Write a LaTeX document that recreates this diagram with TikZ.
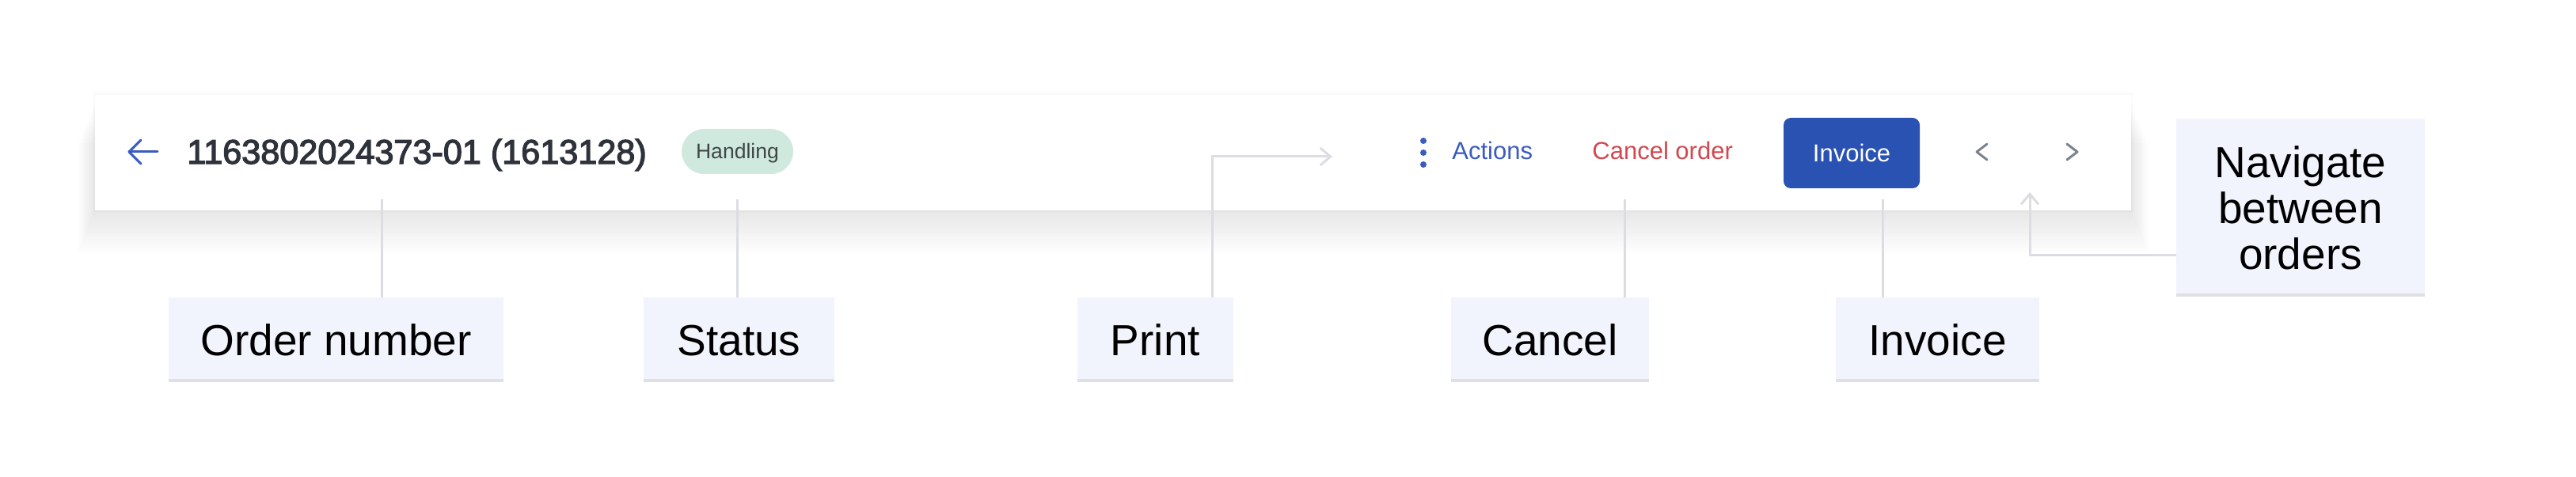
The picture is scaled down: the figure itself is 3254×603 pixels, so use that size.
\documentclass[tikz,border=0pt]{standalone}
\usepackage{fontspec}
\setmainfont{Liberation Sans}
\newfontfamily\uisemi[FakeBold=3]{Liberation Sans}
\usetikzlibrary{arrows.meta}
\definecolor{conngray}{HTML}{DCDDE3}
\definecolor{lblfill}{HTML}{F1F4FC}
\definecolor{lblline}{HTML}{DEE0E6}
\definecolor{uitext}{HTML}{2E323B}
\definecolor{uiblue}{HTML}{3A5BC0}
\definecolor{btnblue}{HTML}{2952B3}
\definecolor{uired}{HTML}{D4474F}
\definecolor{pillgreen}{HTML}{D0E9DF}
\definecolor{pilltext}{HTML}{3E4744}
\definecolor{chevgray}{HTML}{7D8291}
\tikzset{
  lbl/.style={fill=lblfill, inner sep=0pt, minimum height=53.5pt,
    font=\fontsize{27.5}{29}\selectfont, text=black,
    text height=20pt, text depth=0pt},
  lblnav/.style={fill=lblfill, inner sep=0pt, minimum height=112.5pt,
    font=\fontsize{27.5}{29}\selectfont, text=black, align=center},
  lblbase/.style={draw=lblline, line width=2pt},
  conn/.style={draw=conngray, line width=1.5pt},
  connarrow/.style={conn, -{Straight Barb[length=6.5pt,width=11pt]}},
  uiline/.style={line width=1.5pt, line cap=round, line join=round},
  uitxt/.style={inner sep=0pt, anchor=base west, font=\fontsize{15.5}{18}\selectfont},
}
\begin{document}
\begin{tikzpicture}[x=0.5pt,y=-0.5pt]
\useasboundingbox (0,0) rectangle (3254,603);
\fill[white] (0,0) rectangle (3254,603);

% card shadow
\fill[black,opacity=0.02] (118,117) rectangle (2694,268);
\foreach \k in {1,...,24}
  \fill[black,opacity=0.003] (120-0.9*\k,128+2.2*\k) rectangle (2692+0.9*\k,266+2.3*\k);
% card
\node[fill=white, inner sep=0pt, minimum width=1286pt, minimum height=73pt, anchor=north west] (card) at (120,120) {};

% back arrow
\draw[uiline, draw=uiblue] (199,192) -- (163,192);
\draw[uiline, draw=uiblue] (178,177) -- (163,192) -- (178,207);

% order number
\node[inner sep=0pt, anchor=base west, text=uitext, font=\uisemi\fontsize{21.6}{26}\selectfont] (ordno) at (236,207) {1163802024373-01 (1613128)};

% status pill
\node[fill=pillgreen, inner sep=0pt, minimum width=70.5pt, minimum height=28.5pt, rounded corners=14.2pt,
  text=pilltext, font=\fontsize{13.3}{16}\selectfont, text height=9.5pt, text depth=0pt] (pill) at (931.5,191.5) {Handling};

% actions
\foreach \yy in {178,193,208} \fill[uiblue] (1798,\yy) circle (2pt);
\node[uitxt, text=uiblue] (actions) at (1834,202) {Actions};
\node[uitxt, text=uired] (cancelorder) at (2011,202) {Cancel order};

% invoice button
\node[fill=btnblue, inner sep=0pt, minimum width=86pt, minimum height=44.5pt, rounded corners=4.5pt,
  text=white, font=\fontsize{15.5}{18}\selectfont, text height=11pt, text depth=0pt] (invbtn) at (2339,193.5) {Invoice};

% chevrons
\draw[uiline, draw=chevgray] (2510,182) -- (2497,192) -- (2510,202);
\draw[uiline, draw=chevgray] (2611,182) -- (2624,192) -- (2611,202);

% labels
\node[lbl, minimum width=211.5pt] (lon) at (424.5,429.5) {Order number};
\node[lbl, minimum width=120.5pt] (lst) at (933.5,429.5) {Status};
\node[lbl, minimum width=98.5pt] (lpr) at (1459.5,429.5) {Print};
\node[lbl, minimum width=125pt] (lca) at (1958,429.5) {Cancel};
\node[lbl, minimum width=128.5pt] (lin) at (2447.5,429.5) {Invoice};
\node[lblnav, minimum width=157pt] (lnav) at (2906,262.5) {Navigate\\between\\orders};

\foreach \n in {lon,lst,lpr,lca,lin,lnav}
  \draw[lblbase] ([yshift=1pt]\n.south west) -- ([yshift=1pt]\n.south east);

% connectors
\coordinate (c-on) at (482,252);
\draw[conn] (c-on) -- (c-on |- lon.north);
\draw[conn] ([yshift=-16pt]pill.south) -- (pill.south |- lst.north);
\coordinate (c-prx) at (1531,198);
\coordinate (c-pr) at (1683,198);
\draw[connarrow] (lpr.north -| c-prx) -- (c-prx) -- (c-pr);
\coordinate (c-ca) at (2052,252);
\draw[conn] (c-ca) -- (c-ca |- lca.north);
\coordinate (c-in) at (2378,252);
\draw[conn] (c-in) -- (c-in |- lin.north);
\coordinate (c-navy) at (2564,323);
\coordinate (c-nav) at (2564,243);
\draw[connarrow] (lnav.west |- c-navy) -- (c-navy) -- (c-nav);
\end{tikzpicture}
\end{document}
